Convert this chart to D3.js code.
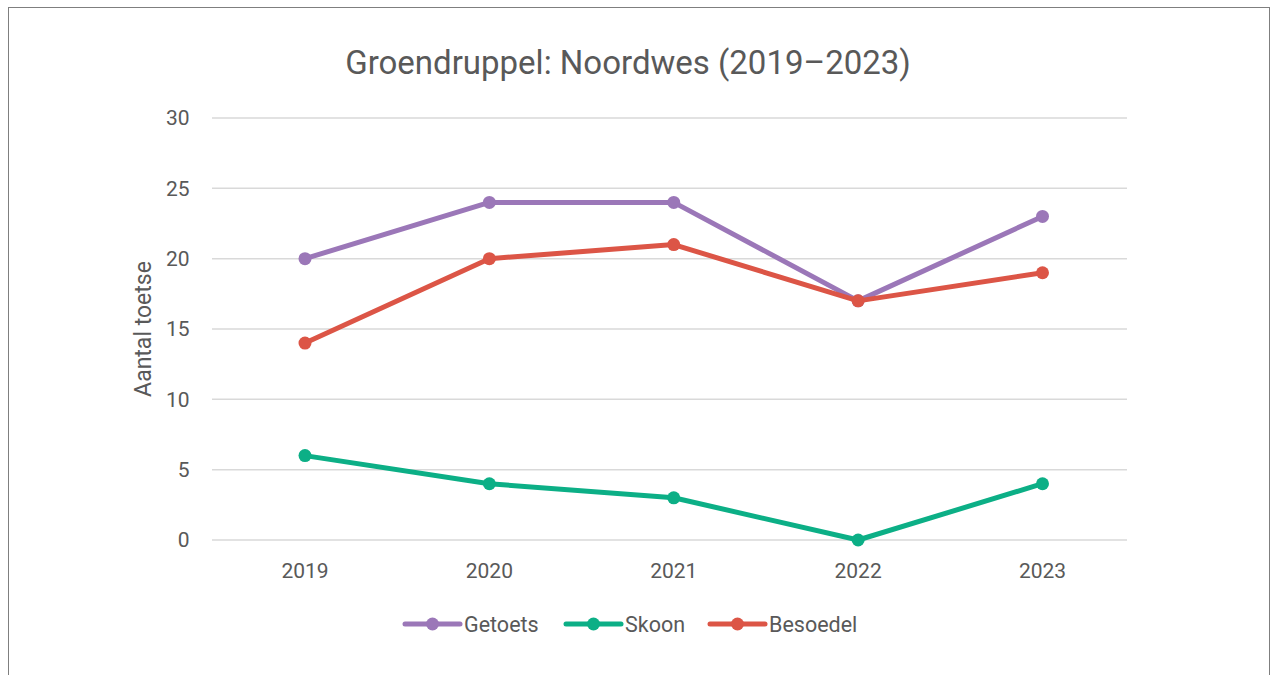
<!DOCTYPE html>
<html>
<head>
<meta charset="utf-8">
<script src="https://cdn.jsdelivr.net/npm/d3@7"></script>
<style>
  body { margin: 0; background: #fff; }
  svg { display: block; font-family: Roboto, "Noto Sans", sans-serif; }
</style>
</head>
<body>
<svg id="chart"></svg>
<script>
const years = ["2019", "2020", "2021", "2022", "2023"];
const getoets = [20, 24, 24, 17, 23];
const skoon = [6, 4, 3, 0, 4];
const besoedel = [14, 20, 21, 17, 19];
const yTicks = [0, 5, 10, 15, 20, 25, 30];

const series = [
    { name: "Getoets", values: getoets, color: "#9b77b8" },
    { name: "Skoon", values: skoon, color: "#0caf86" },
    { name: "Besoedel", values: besoedel, color: "#dc5546" }
];

const width = 1271, height = 675;
const svg = d3.select("#chart")
    .attr("width", width)
    .attr("height", height);

// Outer frame
svg.append("rect")
    .attr("x", 8.5).attr("y", 7.5)
    .attr("width", 1261).attr("height", 700)
    .attr("fill", "none")
    .attr("stroke", "#7f7f7f")
    .attr("stroke-width", 1);

// Title
svg.append("text")
    .attr("x", 628).attr("y", 74)
    .attr("text-anchor", "middle")
    .attr("fill", "#595959")
    .style("font-size", "33px")
    .text("Groendruppel: Noordwes (2019\u20132023)");

const x = d3.scalePoint().domain(years).range([305, 1042.5]);
const y = d3.scaleLinear().domain([0, 30]).range([540, 118]);

// Gridlines
svg.append("g")
    .selectAll("line")
    .data(yTicks)
    .enter()
    .append("line")
    .attr("x1", 212).attr("x2", 1127)
    .attr("y1", d => y(d)).attr("y2", d => y(d))
    .attr("stroke", "#d9d9d9")
    .attr("stroke-width", 1.5);

// Y tick labels
svg.append("g")
    .selectAll("text")
    .data(yTicks)
    .enter()
    .append("text")
    .attr("x", 189.5)
    .attr("y", d => y(d))
    .attr("dy", "0.35em")
    .attr("text-anchor", "end")
    .attr("fill", "#595959")
    .style("font-size", "21px")
    .text(d => d);

// X tick labels
svg.append("g")
    .selectAll("text")
    .data(years)
    .enter()
    .append("text")
    .attr("x", d => x(d))
    .attr("y", 571)
    .attr("dy", "0.35em")
    .attr("text-anchor", "middle")
    .attr("fill", "#595959")
    .style("font-size", "21px")
    .text(d => d);

// Y axis title
svg.append("text")
    .attr("transform", "translate(151,329) rotate(-90)")
    .attr("text-anchor", "middle")
    .attr("fill", "#595959")
    .style("font-size", "23px")
    .text("Aantal toetse");

// Lines and markers
const line = d3.line()
    .x((d, i) => x(years[i]))
    .y(d => y(d));

const groups = svg.append("g")
    .selectAll("g")
    .data(series)
    .enter()
    .append("g");

groups.append("path")
    .attr("d", d => line(d.values))
    .attr("fill", "none")
    .attr("stroke", d => d.color)
    .attr("stroke-width", 5)
    .attr("stroke-linejoin", "round")
    .attr("stroke-linecap", "round");

groups.selectAll("circle")
    .data(d => d.values.map((v, i) => ({ v, i, color: d.color })))
    .enter()
    .append("circle")
    .attr("cx", d => x(years[d.i]))
    .attr("cy", d => y(d.v))
    .attr("r", 6.5)
    .attr("fill", d => d.color);

// Legend
const legendX = [405, 566, 710];
const legend = svg.append("g")
    .selectAll("g")
    .data(series)
    .enter()
    .append("g")
    .attr("transform", (d, i) => "translate(" + legendX[i] + ",624)");

legend.append("line")
    .attr("x1", 0).attr("x2", 55)
    .attr("stroke", d => d.color)
    .attr("stroke-width", 5)
    .attr("stroke-linecap", "round");

legend.append("circle")
    .attr("cx", 27.5)
    .attr("r", 6.5)
    .attr("fill", d => d.color);

legend.append("text")
    .attr("x", 59)
    .attr("dy", "0.35em")
    .attr("fill", "#595959")
    .style("font-size", "21.5px")
    .text(d => d.name);
</script>
</body>
</html>
